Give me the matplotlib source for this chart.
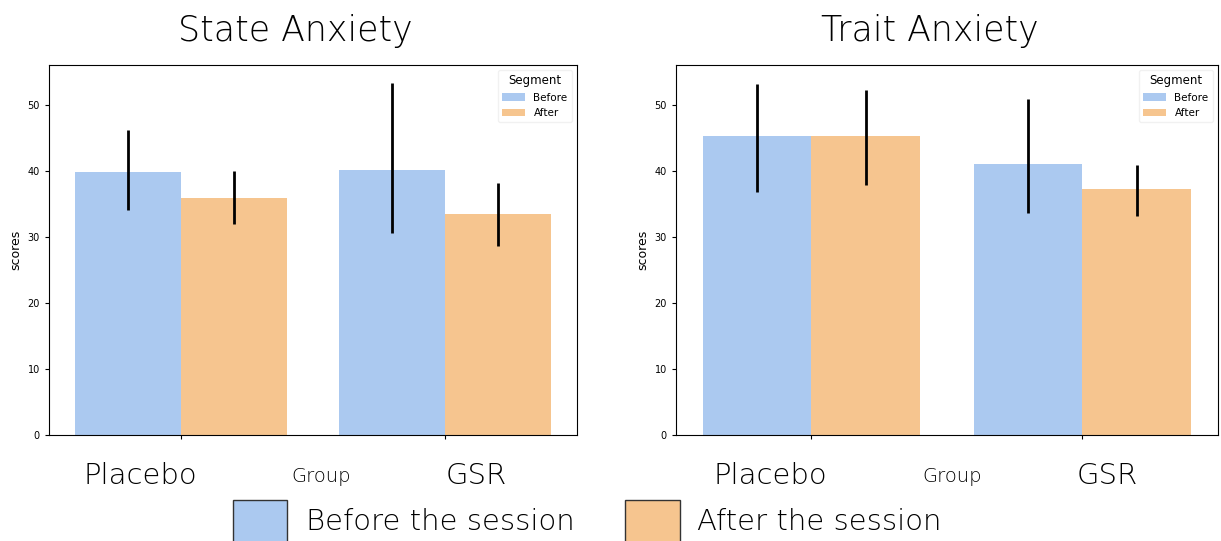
import matplotlib.pyplot as plt
from matplotlib.patches import Rectangle
import numpy as np

groups = ["Placebo", "GSR"]
segments = ["Before", "After"]

# State anxiety: means and CI ends per segment (Placebo, GSR)
state_mean = {"Before": [39.8, 40.1], "After": [35.8, 33.5]}
state_lo = {"Before": [34.0, 30.6], "After": [31.9, 28.6]}
state_hi = {"Before": [46.2, 53.3], "After": [39.9, 38.2]}

# Trait anxiety
trait_mean = {"Before": [45.2, 41.0], "After": [45.2, 37.2]}
trait_lo = {"Before": [36.8, 33.6], "After": [37.9, 33.2]}
trait_hi = {"Before": [53.2, 50.9], "After": [52.2, 40.8]}

colors = {"Before": "#abc9f0", "After": "#f6c58f"}
light_font = ["DejaVu Sans"]
thin = 200

fig = plt.figure(figsize=(12.21, 5.41), dpi=100)
ax1 = fig.add_axes([0.0401, 0.1959, 0.4324, 0.6839])
ax2 = fig.add_axes([0.5536, 0.1959, 0.4439, 0.6839])


def draw(ax, mean, lo, hi):
    x = np.arange(len(groups))
    w = 0.4
    for i, seg in enumerate(segments):
        pos = x - w / 2 + i * w
        ax.bar(pos, mean[seg], width=w, color=colors[seg], label=seg)
        ax.vlines(pos, lo[seg], hi[seg], color="black", lw=2)
    ax.set_xlim(-0.5, 1.5)
    ax.set_ylim(0, 56)
    ax.set_xticks(x)
    ax.set_xticklabels(["", ""])
    ax.set_yticks([0, 10, 20, 30, 40, 50])
    ax.tick_params(labelsize=7, length=3)
    ax.set_ylabel("scores", fontsize=9)
    leg = ax.legend(title="Segment", loc="upper right", fontsize=7.5,
                    title_fontsize=8.5, frameon=True, handlelength=2.2)
    leg.get_frame().set_edgecolor("#eeeeee")


draw(ax1, state_mean, state_lo, state_hi)
draw(ax2, trait_mean, trait_lo, trait_hi)

fig.text(0.2416, 0.924, "State Anxiety", ha="center", va="baseline",
         fontsize=25, family=light_font, fontweight=thin)
fig.text(0.7617, 0.924, "Trait Anxiety", ha="center", va="baseline",
         fontsize=25, family=light_font, fontweight=thin)

for cx, txt in [(0.1147, "Placebo"), (0.39, "GSR"), (0.6306, "Placebo"), (0.9066, "GSR")]:
    fig.text(cx, 0.1054, txt, ha="center", va="baseline", fontsize=21,
             family=light_font, fontweight=thin)
for cx in [0.263, 0.78]:
    fig.text(cx, 0.109, "Group", ha="center", va="baseline", fontsize=14,
             family=light_font, fontweight=thin)

# bottom legend
fig.patches.append(Rectangle((233 / 1221, -0.01), 54 / 1221, 0.085,
                             transform=fig.transFigure, facecolor=colors["Before"],
                             edgecolor="#333333", lw=1))
fig.text(306 / 1221, 0.02, "Before the session", ha="left", va="baseline",
         fontsize=21, family=light_font, fontweight=thin)
fig.patches.append(Rectangle((625 / 1221, -0.01), 55 / 1221, 0.085,
                             transform=fig.transFigure, facecolor=colors["After"],
                             edgecolor="#333333", lw=1))
fig.text(697 / 1221, 0.02, "After the session", ha="left", va="baseline",
         fontsize=21, family=light_font, fontweight=thin)

fig.savefig("out.png", dpi=100)
